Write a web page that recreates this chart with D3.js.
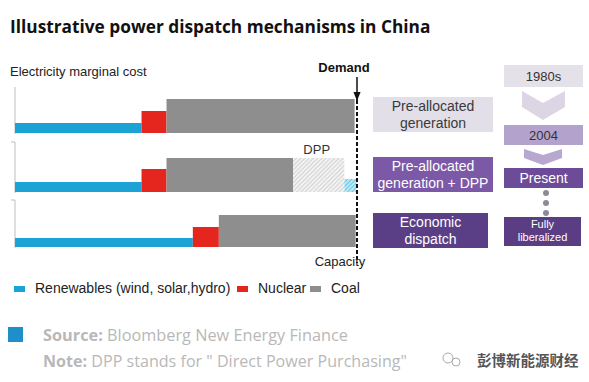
<!DOCTYPE html>
<html>
<head>
<meta charset="utf-8">
<script src="https://cdn.jsdelivr.net/npm/d3@7/dist/d3.min.js"></script>
<style>
  html, body { margin: 0; padding: 0; background: #fff; }
  svg { display: block; }
</style>
</head>
<body>
<svg id="chart" width="589" height="382"></svg>
<script>
// ---------------- DATA ----------------
const categories = ["Pre-allocated generation", "Pre-allocated generation + DPP", "Economic dispatch"];
const boxLabels = [["Pre-allocated", "generation"], ["Pre-allocated", "generation + DPP"], ["Economic", "dispatch"]];
// capacity (share of demand, %)
const renewablesCap = [37, 37, 52];
const nuclearCap = [7.3, 7.3, 7.6];
const coalCap = [55, 37, 40];
const dppCoalCap = [0, 15, 0];
const dppRenewCap = [0, 3.5, 0];
// marginal cost (illustrative units)
const renewablesCost = [1.0, 1.0, 0.9];
const nuclearCost = [2.2, 2.3, 2.0];
const coalCost = [3.4, 3.4, 3.2];
const timeline = ["1980s", "2004", "Present", "Fully liberalized"];
const legendItems = ["Renewables (wind, solar,hydro)", "Nuclear", "Coal"];

// ---------------- STYLE ----------------
const colors = { ren: "#1ba3d6", nuc: "#e5261f", coal: "#8e8e8e" };
const svg = d3.select("#chart");
const defs = svg.append("defs");
const hatch = defs.append("pattern").attr("id", "hatchGray").attr("patternUnits", "userSpaceOnUse")
  .attr("width", 3).attr("height", 3).attr("patternTransform", "rotate(45)");
hatch.append("rect").attr("width", 3).attr("height", 3).attr("fill", "#f2f2f2");
hatch.append("line").attr("x1", 0).attr("y1", 0).attr("x2", 0).attr("y2", 3).attr("stroke", "#bdbdbd").attr("stroke-width", 1.2);
const hatchB = defs.append("pattern").attr("id", "hatchBlue").attr("patternUnits", "userSpaceOnUse")
  .attr("width", 3).attr("height", 3).attr("patternTransform", "rotate(45)");
hatchB.append("rect").attr("width", 3).attr("height", 3).attr("fill", "#bfe8f3");
hatchB.append("line").attr("x1", 0).attr("y1", 0).attr("x2", 0).attr("y2", 3).attr("stroke", "#3cb8dc").attr("stroke-width", 1.4);

const arrowM = defs.append("marker").attr("id", "arr").attr("viewBox", "0 0 10 10")
  .attr("refX", 9).attr("refY", 5).attr("markerWidth", 6).attr("markerHeight", 6).attr("orient", "auto");
arrowM.append("path").attr("d", "M0,1 L10,5 L0,9 Z").attr("fill", "#111");

// Title
svg.append("text").attr("x", 10).attr("y", 33)
  .attr("font-family", "Open Sans, sans-serif").attr("font-weight", 700).attr("font-size", 17.3)
  .attr("fill", "#111").text("Illustrative power dispatch mechanisms in China");

svg.append("text").attr("x", 10).attr("y", 76)
  .attr("font-family", "Liberation Sans, Arial, sans-serif").attr("font-size", 13)
  .attr("fill", "#222").text("Electricity marginal cost");

// Scales
const x = d3.scaleLinear().domain([0, 100]).range([15, 357]);
const panelBase = d3.scalePoint().domain(categories).range([133, 247]);
const panelTop = [87, 142, 200];
const hScale = d3.scaleLinear().domain([0, 4.6]).range([0, 46]);

categories.forEach((c, i) => {
  const g = svg.append("g");
  const base = i === 1 ? 192 : panelBase(c);
  // axis
  g.append("line").attr("x1", x(0)).attr("x2", x(0)).attr("y1", panelTop[i]).attr("y2", base + 1)
    .attr("stroke", "#c8c8c8").attr("stroke-width", 1.2);
  if (i > 0) g.append("line").attr("x1", x(0) - 4).attr("x2", x(0)).attr("y1", panelTop[i]).attr("y2", panelTop[i])
    .attr("stroke", "#c8c8c8").attr("stroke-width", 1.2);
  let cur = 0;
  const seg = (w, h, fill) => {
    g.append("rect").attr("x", x(cur)).attr("width", x(cur + w) - x(cur))
      .attr("y", base - hScale(h)).attr("height", hScale(h)).attr("fill", fill);
    cur += w;
  };
  seg(renewablesCap[i], renewablesCost[i], colors.ren);
  seg(nuclearCap[i], nuclearCost[i], colors.nuc);
  seg(coalCap[i], coalCost[i], colors.coal);
  if (dppCoalCap[i] > 0) {
    const s = cur;
    seg(dppCoalCap[i], coalCost[i], "url(#hatchGray)");
    g.append("text").attr("x", (x(s) + x(cur)) / 2 - 2).attr("y", base - hScale(coalCost[i]) - 4)
      .attr("text-anchor", "middle").attr("font-family", "Liberation Sans, Arial, sans-serif")
      .attr("font-size", 13).attr("fill", "#333").text("DPP");
  }
  if (dppRenewCap[i] > 0) seg(dppRenewCap[i], renewablesCost[i] * 1.3, "url(#hatchBlue)");
});

// Demand line
svg.append("line").attr("x1", x(100)).attr("x2", x(100)).attr("y1", 77).attr("y2", 100)
  .attr("stroke", "#111").attr("stroke-width", 1.5).attr("marker-end", "url(#arr)");
svg.append("line").attr("x1", x(100)).attr("x2", x(100)).attr("y1", 100).attr("y2", 263)
  .attr("stroke", "#111").attr("stroke-width", 2).attr("stroke-dasharray", "4,2");
svg.append("text").attr("x", 344).attr("y", 72).attr("text-anchor", "middle")
  .attr("font-family", "Liberation Sans, Arial, sans-serif").attr("font-weight", 700).attr("font-size", 13)
  .attr("fill", "#111").text("Demand");
svg.append("text").attr("x", 340).attr("y", 266).attr("text-anchor", "middle")
  .attr("font-family", "Liberation Sans, Arial, sans-serif").attr("font-size", 13)
  .attr("fill", "#222").text("Capacity");

// Mechanism boxes
const boxFill = ["#e3dfe9", "#7c59a7", "#5b3f86"];
const boxText = ["#3a3a3a", "#fff", "#fff"];
const boxY = [97, 157, 213];
const boxW = [120, 120, 115];
boxLabels.forEach((lines, i) => {
  svg.append("rect").attr("x", 373).attr("y", boxY[i]).attr("width", boxW[i]).attr("height", 35).attr("fill", boxFill[i]);
  lines.forEach((t, j) => {
    svg.append("text").attr("x", 373 + boxW[i] / 2).attr("y", boxY[i] + 14 + j * 16.5).attr("text-anchor", "middle")
      .attr("font-family", "Liberation Sans, Arial, sans-serif").attr("font-size", 14)
      .attr("fill", boxText[i]).text(t);
  });
});

// Timeline
const tlFill = ["#e4e1e9", "#b3a2cc", "#6c4c98", "#5a3d82"];
const tlText = ["#333", "#333", "#fff", "#fff"];
const tlY = [65, 125, 168, 217];
const tlH = [22, 20, 20, 29];
const tlW = [79, 79, 79, 77];
// chevrons
svg.append("path").attr("d", `M522,91 L543,103 L565,91 L565,107 L543,120 L522,107 Z`).attr("fill", "#dcd6e4");
svg.append("path").attr("d", `M524,149 L543,155 L562,149 L562,158 L543,165 L524,158 Z`).attr("fill", "#b8a8d0");
// dots
[193, 203, 213].forEach(yv => svg.append("circle").attr("cx", 546).attr("cy", yv).attr("r", 3).attr("fill", "#8d8a98"));
timeline.forEach((t, i) => {
  svg.append("rect").attr("x", 504).attr("y", tlY[i]).attr("width", tlW[i]).attr("height", tlH[i]).attr("fill", tlFill[i]);
  if (i < 3) {
    svg.append("text").attr("x", 504 + tlW[i] / 2).attr("y", tlY[i] + tlH[i] / 2 + 5).attr("text-anchor", "middle")
      .attr("font-family", "Liberation Sans, Arial, sans-serif").attr("font-size", i === 2 ? 14 : 13)
      .attr("fill", tlText[i]).text(t);
  } else {
    ["Fully", "liberalized"].forEach((w, j) => {
      svg.append("text").attr("x", 504 + tlW[i] / 2).attr("y", tlY[i] + 11 + j * 13).attr("text-anchor", "middle")
        .attr("font-family", "Liberation Sans, Arial, sans-serif").attr("font-size", 11)
        .attr("fill", tlText[i]).text(w);
    });
  }
});

// Legend
const legX = [14, 237, 310];
const legColors = [colors.ren, colors.nuc, colors.coal];
legendItems.forEach((t, i) => {
  svg.append("rect").attr("x", legX[i]).attr("y", 286).attr("width", 11).attr("height", 6).attr("fill", legColors[i]);
  svg.append("text").attr("x", legX[i] + 21).attr("y", 293)
    .attr("font-family", "Liberation Sans, Arial, sans-serif").attr("font-size", 14)
    .attr("fill", "#222").text(t);
});

// Source & note
svg.append("rect").attr("x", 8).attr("y", 327).attr("width", 15).attr("height", 15).attr("fill", "#1f8fcb");
const src = svg.append("text").attr("x", 43).attr("y", 341)
  .attr("font-family", "Open Sans, sans-serif").attr("font-size", 16.3).attr("fill", "#b8b8b8");
src.append("tspan").attr("font-weight", 700).text("Source: ");
src.append("tspan").text("Bloomberg New Energy Finance");
const note = svg.append("text").attr("x", 43).attr("y", 367)
  .attr("font-family", "Open Sans, sans-serif").attr("font-size", 16.1).attr("fill", "#b8b8b8");
note.append("tspan").attr("font-weight", 700).text("Note: ");
note.append("tspan").text("DPP stands for \" Direct Power Purchasing\"");

// Watermark
const wm = svg.append("g").attr("transform", "translate(452,360)");
wm.append("circle").attr("cx", -4).attr("cy", -2).attr("r", 5).attr("fill", "none").attr("stroke", "#aaa").attr("stroke-width", 1);
wm.append("circle").attr("cx", 4).attr("cy", 2).attr("r", 4).attr("fill", "none").attr("stroke", "#aaa").attr("stroke-width", 1);
svg.append("text").attr("x", 477).attr("y", 366)
  .attr("font-family", "Noto Sans CJK SC, sans-serif").attr("font-size", 14.5).attr("font-weight", 700)
  .attr("fill", "#555").text("彭博新能源财经");
</script>
</body>
</html>
